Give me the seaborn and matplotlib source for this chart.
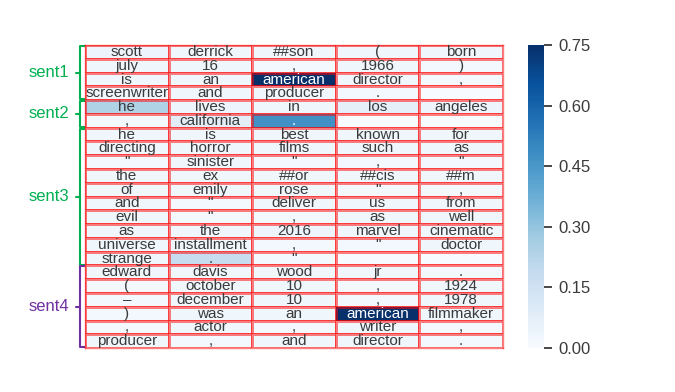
import numpy as np
import matplotlib
matplotlib.use("Agg")
import matplotlib.pyplot as plt
import seaborn as sns

# tokens laid out 5 per row, "" = padding
tokens = [
    ["scott", "derrick", "##son", "(", "born"],
    ["july", "16", ",", "1966", ")"],
    ["is", "an", "american", "director", ","],
    ["screenwriter", "and", "producer", ".", ""],
    ["he", "lives", "in", "los", "angeles"],
    [",", "california", ".", "", ""],
    ["he", "is", "best", "known", "for"],
    ["directing", "horror", "films", "such", "as"],
    ['"', "sinister", '"', ",", '"'],
    ["the", "ex", "##or", "##cis", "##m"],
    ["of", "emily", "rose", '"', ","],
    ["and", '"', "deliver", "us", "from"],
    ["evil", '"', ",", "as", "well"],
    ["as", "the", "2016", "marvel", "cinematic"],
    ["universe", "installment", ",", '"', "doctor"],
    ["strange", ".", '"', "", ""],
    ["edward", "davis", "wood", "jr", "."],
    ["(", "october", "10", ",", "1924"],
    ["–", "december", "10", ",", "1978"],
    [")", "was", "an", "american", "filmmaker"],
    [",", "actor", ",", "writer", ","],
    ["producer", ",", "and", "director", "."],
]

# attention weights
weights = [
    [0.04, 0.03, 0.03, 0.03, 0.03],
    [0.03, 0.03, 0.02, 0.03, 0.02],
    [0.03, 0.03, 0.76, 0.03, 0.02],
    [0.03, 0.03, 0.03, 0.02, 0.00],
    [0.24, 0.04, 0.03, 0.07, 0.04],
    [0.02, 0.08, 0.47, 0.00, 0.00],
    [0.03, 0.03, 0.03, 0.03, 0.03],
    [0.03, 0.03, 0.03, 0.03, 0.03],
    [0.02, 0.03, 0.02, 0.02, 0.02],
    [0.03, 0.03, 0.03, 0.03, 0.03],
    [0.03, 0.03, 0.03, 0.02, 0.02],
    [0.03, 0.02, 0.03, 0.03, 0.03],
    [0.03, 0.02, 0.02, 0.03, 0.03],
    [0.03, 0.03, 0.04, 0.03, 0.03],
    [0.03, 0.03, 0.02, 0.02, 0.03],
    [0.03, 0.18, 0.02, 0.00, 0.00],
    [0.03, 0.03, 0.03, 0.03, 0.02],
    [0.02, 0.03, 0.03, 0.02, 0.03],
    [0.02, 0.03, 0.03, 0.02, 0.03],
    [0.02, 0.03, 0.03, 0.76, 0.03],
    [0.02, 0.03, 0.02, 0.03, 0.02],
    [0.03, 0.02, 0.03, 0.03, 0.02],
]

sent_names = ["sent1", "sent2", "sent3", "sent4"]
sent_rows = [(0, 4), (4, 6), (6, 16), (16, 22)]
sent_colors = ["#00b050", "#00b050", "#00b050", "#7030a0"]

sns.set_theme(style="ticks")
plt.rcParams["font.family"] = ["Liberation Sans", "DejaVu Sans"]

fig = plt.figure(figsize=(6.75, 3.92), dpi=100)
ax = fig.add_axes([0.126, 0.112, 0.619, 0.773])
cax = fig.add_axes([0.782, 0.112, 0.024, 0.773])

grid_red = (1, 0, 0, 0.5)
sns.heatmap(
    np.array(weights), ax=ax, cbar_ax=cax, cmap="Blues", vmin=0, vmax=0.75,
    annot=np.array(tokens), fmt="", annot_kws={"fontsize": 11},
    linewidths=1, linecolor=grid_red,
    cbar_kws={"ticks": [0, 0.15, 0.30, 0.45, 0.60, 0.75]},
)
ax.set_xticks([])
ax.set_yticks([])
for s in ax.spines.values():
    s.set_visible(True)
    s.set_color(grid_red)
    s.set_linewidth(1)

# softer dark text like the original
for t in ax.texts:
    if t.get_color() != "w":
        t.set_color("#3a3a3a")

cbar = ax.collections[0].colorbar
cbar.outline.set_visible(False)
cax.yaxis.set_major_formatter(matplotlib.ticker.FormatStrFormatter("%.2f"))
cax.tick_params(axis="y", length=6, width=1.3, color="#3a3a3a", direction="out",
                labelsize=12, labelcolor="#3a3a3a", pad=4,
                left=False, right=True)

# sentence brackets on the left
xb = -0.06
for name, (r0, r1), c in zip(sent_names, sent_rows, sent_colors):
    y0, y1 = r0 + 0.06, r1 - 0.06
    ax.plot([0.0, xb, xb, 0.0], [y0, y0, y1, y1], color=c, lw=1.5,
            clip_on=False, solid_capstyle="butt")
    ym = (r0 + r1) / 2
    ax.plot([xb, xb - 0.05], [ym, ym], color=c, lw=1.5, clip_on=False)
    ax.text(-0.43, ym, name, color=c, fontsize=12, ha="center", va="center")

fig.savefig("out.png", dpi=100)
